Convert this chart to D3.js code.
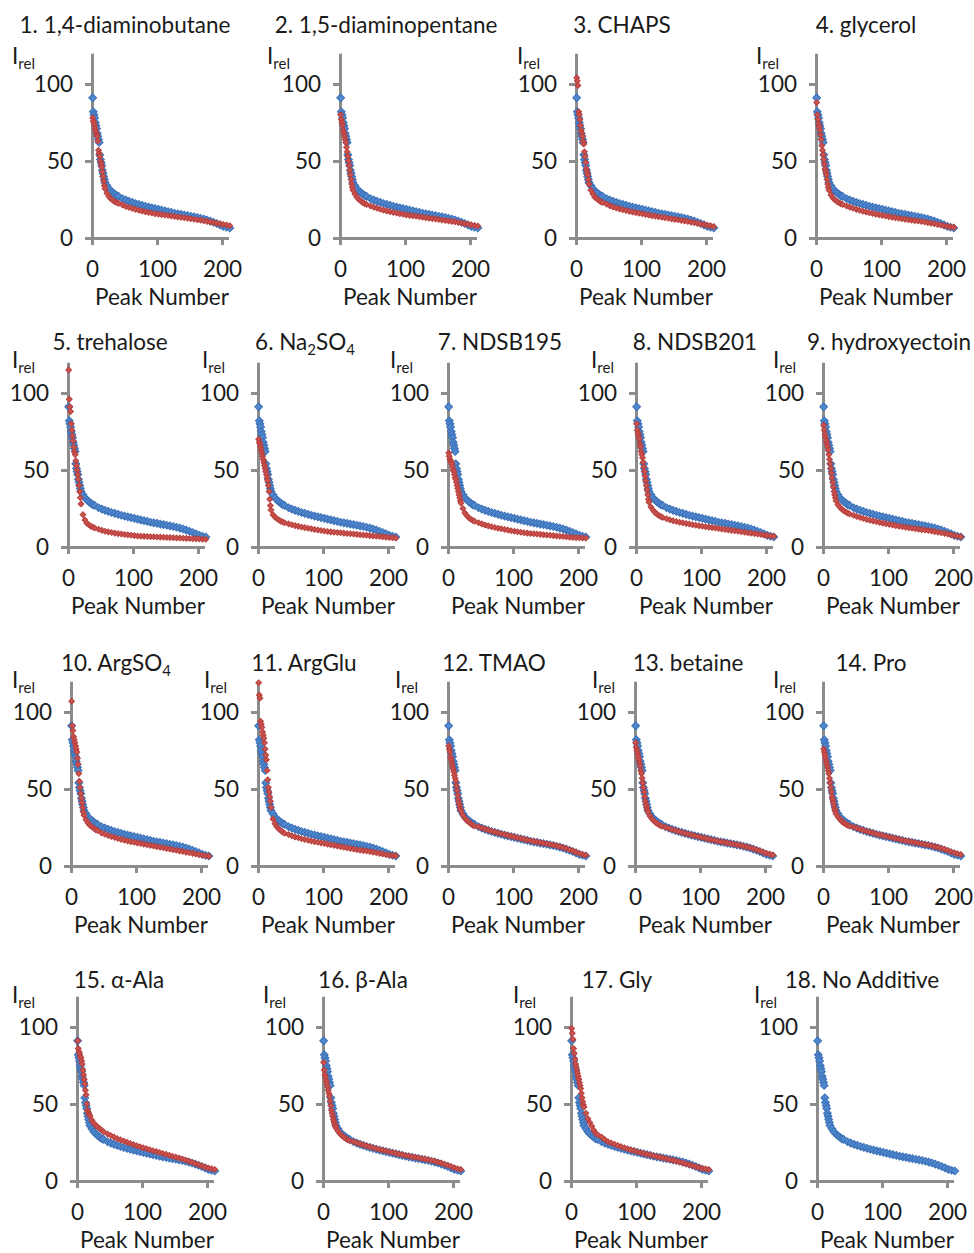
<!DOCTYPE html>
<html><head><meta charset="utf-8">
<script src="https://cdn.jsdelivr.net/npm/d3@7"></script>
<style>
body{margin:0;background:#fff}
text{font-family:Lato,'Open Sans',sans-serif;fill:#1a1a1a}
</style>
</head><body>
<svg id="c" width="974" height="1253"></svg>
<script>
// ---------- DATA ----------
const peaks = [1,2,3,4,5,6,7,8,9,10,11,12,13,14,15,16,17,18,19,20,
  23,26,29,32,35,38,41,
  47,52,57,62,67,72,77,82,87,92,97,102,107,112,117,122,127,132,137,142,147,152,157,162,167,172,177,182,187,192,197,202,207,212];

const noAdditive = [91,82,80,78,75,73,71,68,66,64,62,54,51,49,47,44,42,40,38,36,
  34,32,30.5,29.5,28.5,27.5,27,
  25.5,24.6,23.8,23.1,22.4,21.8,21.2,20.6,20.1,19.6,19.1,18.6,18.1,17.6,17.1,16.6,16.1,15.7,15.3,14.9,14.5,14.1,13.7,13.3,12.8,12.3,11.7,11,10.2,9.4,8.5,7.6,7,6.5];

const a01 = [78,76,75,73,71,69,67,66,63,57,55,53,50,48,46,43,40,37,34,32,
  29,27,25.5,24.5,23.5,23,22.5,
  21.5,20.5,19.8,19.2,18.6,18,17.5,17,16.6,16.2,15.8,15.5,15.2,14.9,14.6,14.3,14,13.7,13.4,13.1,12.8,12.5,12.2,11.9,11.6,11.2,10.8,10.4,10,9.6,9.2,8.8,8.4,8];
const a02 = [80,77,75,73,70,68,66,64,62,59,56,53,50,47,44,41,38,35,33,31,
  28.5,26.5,25,24,23,22.3,21.7,
  20.8,20,19.3,18.7,18.1,17.6,17.1,16.6,16.2,15.8,15.4,15,14.7,14.4,14.1,13.8,13.5,13.2,12.9,12.6,12.3,12,11.7,11.4,11.1,10.8,10.5,10.1,9.7,9.3,8.9,8.5,8.1,7.8];
const a03 = [104,102,99,82,80,77,73,70,68,66,63,61,56,53,49,45,43,41,38,35,
  31,28.5,26.5,25.5,24.5,23.5,23,
  22,21,20.2,19.5,18.9,18.3,17.8,17.3,16.9,16.5,16.1,15.7,15.3,14.9,14.5,14.1,13.8,13.5,13.1,12.8,12.4,12.1,11.8,11.4,11.1,10.7,10.3,9.9,9.5,9.1,8.7,8.3,7.9,7.5];
const a04 = [88,80,77,74,72,70,67,64,60,57,54,51,48,45,43,41,38,35,33,31,
  28,26,24.8,23.8,23,22.3,21.7,
  20.8,20,19.3,18.6,18,17.4,16.9,16.4,15.9,15.5,15.1,14.7,14.3,13.9,13.5,13.1,12.8,12.5,12.2,11.9,11.6,11.3,11,10.7,10.4,10,9.6,9.2,8.8,8.4,8,7.6,7.2,6.9];
const a05 = [115,96,91,88,80,76,72,69,65,62,60,56,53,50,47,44,40,36,32,28,
  21,17.5,15.5,14.5,13.5,13,12.3,
  11.5,10.8,10.2,9.8,9.4,9,8.7,8.4,8.1,7.9,7.6,7.4,7.2,7,6.9,6.8,6.7,6.6,6.5,6.4,6.3,6.2,6.1,6,5.9,5.8,5.7,5.6,5.5,5.4,5.3,5.2,5.1,5];
const a06 = [70,68,67,65,63,61,59,57,55,53,51,49,47,45,43,40,36,31,27,24,
  21,19.5,18.5,17.5,16.8,16.2,15.7,
  15,14.4,13.9,13.4,13,12.6,12.2,11.8,11.4,11,10.7,10.4,10.1,9.8,9.6,9.4,9.2,9,8.8,8.6,8.4,8.2,8,7.8,7.6,7.4,7.2,7,6.8,6.6,6.4,6.2,6,5.8];
const a07 = [61,59,57,56,55,54,52,50,49,47,45,44,42,40,38,36,34,32,30,28.5,
  25,22,20.5,19,18,17.3,16.7,
  15.8,15,14.3,13.7,13.2,12.7,12.2,11.8,11.4,11,10.6,10.2,9.9,9.6,9.3,9,8.8,8.6,8.4,8.2,8,7.8,7.6,7.4,7.2,7,6.8,6.6,6.4,6.2,6.1,6,5.9,5.8];
const a08 = [80,76,74,72,70,67,65,62,60,58,55,52,49,46,43,40,37,34,31,29,
  26,24,22.5,21.5,20.5,19.8,19.2,
  18.4,17.7,17.1,16.6,16.1,15.7,15.3,14.9,14.5,14.1,13.8,13.5,13.2,12.9,12.6,12.3,12,11.7,11.4,11.1,10.8,10.5,10.2,9.9,9.6,9.3,9,8.7,8.4,8.1,7.8,7.5,7.2,7];
const a09 = [79,76,73,71,69,67,65,63,60,57,54,51,48,45,42,39,36,34,32,30,
  27.5,25.8,24.5,23.5,22.7,22,21.4,
  20.6,19.8,19.1,18.5,17.9,17.4,16.9,16.4,15.9,15.5,15.1,14.7,14.3,13.9,13.5,13.1,12.8,12.5,12.2,11.9,11.6,11.3,11,10.7,10.4,10,9.6,9.2,8.8,8.4,8,7.5,7,6.6];
const a10 = [107,91,88,84,82,80,78,76,74,70,66,60,55,51,47,44,41,38,35,33,
  30,28,26.5,25.5,24.5,23.5,23,
  21.5,20.6,19.8,19.1,18.5,17.9,17.3,16.8,16.3,15.8,15.4,15,14.6,14.2,13.8,13.4,13,12.6,12.2,11.8,11.4,11,10.6,10.2,9.8,9.4,9,8.6,8.2,7.8,7.4,7,6.7,6.4];
const a11 = [119,111,109,94,92,90,87,85,83,80,76,72,69,62,56,51,48,45,42,38,
  30.5,27.5,25.5,24,23,22,21.3,
  20.4,19.6,18.9,18.3,17.7,17.2,16.7,16.2,15.8,15.4,15,14.6,14.2,13.8,13.4,13,12.6,12.2,11.8,11.4,11,10.6,10.3,10,9.7,9.4,9,8.6,8.2,7.8,7.4,7,6.8,6.6];
const a12 = [78,76,74,71,69,67,65,63,61,59,57,55,52,49,46,43,41,39,37,35.5,
  33,31,29.5,28.5,27.5,26.5,26,
  25.5,24.7,24,23.3,22.7,22.1,21.5,20.9,20.4,19.9,19.4,18.9,18.4,17.9,17.4,16.9,16.4,16,15.6,15.2,14.8,14.4,14,13.6,13.1,12.6,12,11.3,10.6,9.8,9,8.2,7.5,7];
const a13 = [80,77,75,73,71,69,67,65,62,60,57,54,51,48,45,42,40,38,36.5,35,
  32.5,30.7,29.3,28.2,27.3,26.5,25.9,
  25.2,24.4,23.7,23,22.4,21.8,21.2,20.6,20.1,19.6,19.1,18.6,18.1,17.6,17.1,16.6,16.2,15.8,15.4,15,14.6,14.2,13.8,13.4,12.9,12.4,11.8,11.2,10.5,9.8,9,8.3,7.7,7.2];
const a14 = [76,74,72,70,68,66,64,62,60,57,54,51,48,45,43,41,39,37,35.5,34,
  32,30.3,29,28,27.2,26.5,25.9,
  25.3,24.6,23.9,23.2,22.6,22,21.4,20.8,20.3,19.8,19.3,18.8,18.3,17.8,17.3,16.8,16.4,16,15.6,15.2,14.8,14.4,14,13.6,13.1,12.6,12.1,11.5,10.8,10.1,9.3,8.6,8,7.5];
const a15 = [91,86,84,83,81,80,78,76,72,69,66,63,59,56,50,46,45,44,43,42,
  39.5,37.5,36,35,34,33,32,
  30.5,29.5,28.5,27.5,26.7,26,25.2,24.4,23.6,22.9,22.2,21.5,20.9,20.3,19.7,19.1,18.5,17.9,17.3,16.7,16.1,15.5,14.9,14.3,13.6,12.9,12.2,11.4,10.6,9.8,9,8.4,8,7.5];
const a16 = [77,72,69,67,65,63,61,59,57,55,52,49,46,44,42,40,38.5,37,35.5,34.5,
  32.5,30.8,29.5,28.5,27.6,26.8,26.1,
  25.5,24.8,24.1,23.4,22.8,22.2,21.6,21,20.5,20,19.5,19,18.5,18,17.5,17,16.6,16.2,15.8,15.4,15,14.6,14.2,13.8,13.3,12.8,12.2,11.6,10.9,10.2,9.4,8.6,8,7.5];
const a17 = [99,96,92,86,83,79,76,74,72,70,68,66,64,62,60,57,54,51.5,49.5,48,
  44,40.5,38,35.5,33,31,30,
  28.5,27,25.5,24.7,23.9,23.1,22.3,21.6,20.9,20.2,19.6,19,18.4,17.9,17.4,16.9,16.4,15.9,15.4,14.9,14.4,13.9,13.4,12.9,12.3,11.7,11.1,10.5,9.9,9.3,8.7,8.2,7.8,7.4];

const panelTitles = ["1. 1,4-diaminobutane","2. 1,5-diaminopentane","3. CHAPS","4. glycerol",
  "5. trehalose","6. Na{2}SO{4}","7. NDSB195","8. NDSB201","9. hydroxyectoin",
  "10. ArgSO{4}","11. ArgGlu","12. TMAO","13. betaine","14. Pro",
  "15. α-Ala","16. β-Ala","17. Gly","18. No Additive"];
const additiveSeries = [a01,a02,a03,a04,a05,a06,a07,a08,a09,a10,a11,a12,a13,a14,a15,a16,a17,null];
const yTicks = [0,50,100];
const xTicks = [0,100,200];
const xTitle = "Peak Number";

// ---------- LAYOUT ----------
const rows = [
  {oy:238, titleDy:-205, irelDy:-174},
  {oy:547, titleDy:-197, irelDy:-179},
  {oy:866, titleDy:-195, irelDy:-178},
  {oy:1181, titleDy:-193, irelDy:-178}
];
const layout = [
  {row:0,ox:92,tx:125,ix:12},{row:0,ox:340,tx:386,ix:267},{row:0,ox:576,tx:622,ix:517},{row:0,ox:816,tx:866,ix:756},
  {row:1,ox:68,tx:110,ix:12},{row:1,ox:258,tx:305,ix:202},{row:1,ox:448,tx:500,ix:390},{row:1,ox:636,tx:695,ix:591},{row:1,ox:823,tx:889,ix:773},
  {row:2,ox:71,tx:116,ix:12},{row:2,ox:258,tx:304,ix:204},{row:2,ox:448,tx:494,ix:395},{row:2,ox:635,tx:688,ix:592},{row:2,ox:823,tx:871,ix:773},
  {row:3,ox:77,tx:119,ix:12},{row:3,ox:323,tx:363,ix:263},{row:3,ox:571,tx:617,ix:513},{row:3,ox:817,tx:862,ix:754}
];
const FS = 22.5, SUB = 15, AXC = "#8c8c8c";

const svg = d3.select("#c");
const blueSym = d3.symbol(d3.symbolSquare, 30)();
const redSym = d3.symbol(d3.symbolSquare, 16)();

function addRich(textSel, str){
  const parts = str.split(/(\{[^}]*\})/).filter(s=>s.length);
  let shift = 0;
  parts.forEach(p=>{
    if(p[0]==="{"){
      textSel.append("tspan").attr("font-size",SUB).attr("dy",5-shift).text(p.slice(1,-1));
      shift = 5;
    } else {
      const t = textSel.append("tspan").text(p);
      if(shift){ t.attr("dy",-shift); shift = 0; }
    }
  });
}

layout.forEach((L,i)=>{
  const R = rows[L.row], oy = R.oy, ox = L.ox;
  const x = d3.scaleLinear().domain([0,210]).range([ox, ox+136.5]);
  const y = d3.scaleLinear().domain([0,120]).range([oy, oy-184.8]);
  const g = svg.append("g");

  const ya = g.append("g").attr("transform",`translate(${ox},0)`)
    .call(d3.axisLeft(y).tickValues(yTicks).tickSize(7).tickSizeOuter(0).tickPadding(12));
  const xa = g.append("g").attr("transform",`translate(0,${oy})`)
    .call(d3.axisBottom(x).tickValues(xTicks).tickSize(7).tickSizeOuter(0).tickPadding(16));
  [ya,xa].forEach(a=>{
    a.select(".domain").attr("stroke",AXC).attr("stroke-width",3);
    a.selectAll(".tick line").attr("stroke",AXC).attr("stroke-width",3);
    a.selectAll(".tick text").attr("font-size",FS).attr("font-family","Lato,'Open Sans',sans-serif").attr("fill","#1a1a1a");
  });

  g.append("text").attr("x",ox+70).attr("y",oy+67).attr("text-anchor","middle")
    .attr("font-size",FS).text(xTitle);

  const ir = g.append("text").attr("x",L.ix).attr("y",oy+R.irelDy).attr("font-size",FS);
  ir.append("tspan").text("I");
  ir.append("tspan").attr("font-size",SUB).attr("dy",5).text("rel");

  const tt = g.append("text").attr("x",L.tx).attr("y",oy+R.titleDy).attr("text-anchor","middle").attr("font-size",FS);
  addRich(tt, panelTitles[i]);

  const pts = peaks.map((p,k)=>[p,noAdditive[k]]);
  g.append("g").selectAll("path").data(pts).join("path")
    .attr("d",blueSym)
    .attr("transform",d=>`translate(${x(d[0])},${y(d[1])}) rotate(45)`)
    .attr("fill","#5088cf").attr("stroke","#3b70b6").attr("stroke-width",1);

  const s = additiveSeries[i];
  if(s){
    const rp = peaks.map((p,k)=>[p,s[k]]);
    g.append("g").selectAll("path").data(rp).join("path")
      .attr("d",redSym)
      .attr("transform",d=>`translate(${x(d[0])},${y(d[1])}) rotate(45)`)
      .attr("fill","#cc5450").attr("stroke","#b73f3c").attr("stroke-width",1);
  }
});
</script>
</body></html>
